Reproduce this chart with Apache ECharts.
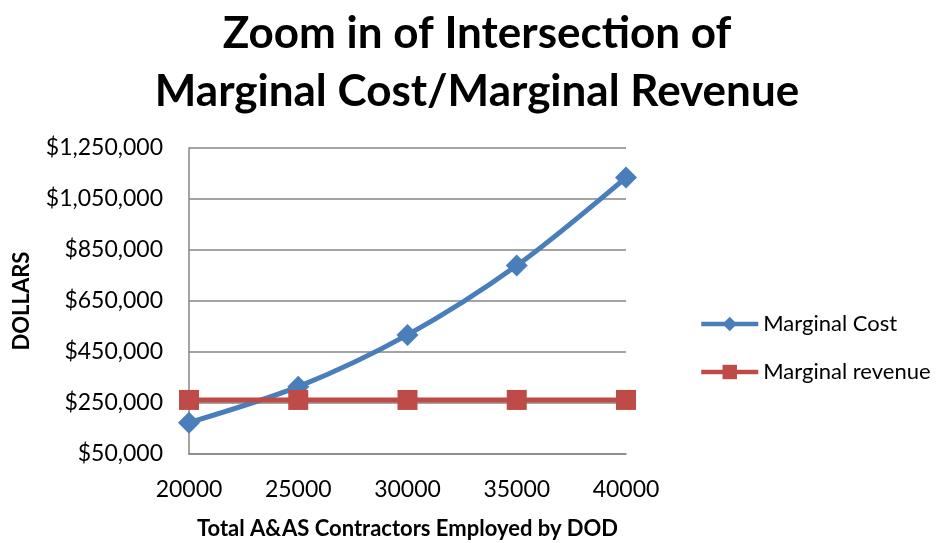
<!DOCTYPE html>
<html>
<head>
<meta charset="utf-8">
<title>Zoom in of Intersection of Marginal Cost/Marginal Revenue</title>
<script src="https://cdn.jsdelivr.net/npm/echarts@6/dist/echarts.min.js"></script>
<style>
  html, body { margin: 0; padding: 0; background: #fff; }
  #chart { width: 952px; height: 543px; }
</style>
</head>
<body>
<div id="chart"></div>
<script>
// contractors employed (x categories)
const contractors = ['20000', '25000', '30000', '35000', '40000']
// dollars per series
const marginalCost = [173000, 314000, 517000, 789000, 1134000]
const marginalRevenue = [262000, 262000, 262000, 262000, 262000]

const FONT = 'Lato, "Open Sans", sans-serif'

const myChart = echarts.init(document.getElementById('chart'))
myChart.setOption({
  animation: false,
  title: {
    text: 'Zoom in of Intersection of\nMarginal Cost/Marginal Revenue',
    left: 472,
    textAlign: 'center',
    top: 0,
    textStyle: { fontFamily: FONT, fontSize: 44, fontWeight: 'bold', color: '#000', lineHeight: 58 }
  },
  legend: {
    orient: 'vertical',
    left: 694,
    top: 308,
    itemWidth: 57,
    itemHeight: 18,
    itemGap: 26,
    textStyle: { fontFamily: FONT, fontSize: 22, color: '#000' },
    data: [
      { name: 'Marginal Cost', lineStyle: { width: 4.5 } },
      { name: 'Marginal revenue', lineStyle: { width: 4.5 } }
    ]
  },
  grid: { left: 189, right: 326, top: 148, bottom: 89, outerBoundsMode: 'none' },
  xAxis: {
    type: 'category',
    boundaryGap: false,
    data: contractors,
    name: 'Total A&AS Contractors Employed by DOD',
    nameLocation: 'middle',
    nameGap: 64,
    nameTextStyle: { fontFamily: FONT, fontSize: 22, fontWeight: 'bold', color: '#000' },
    axisLine: { lineStyle: { color: '#868686', width: 1.5 } },
    axisTick: { show: false },
    axisLabel: { fontFamily: FONT, fontSize: 23, color: '#000', margin: 24 }
  },
  yAxis: {
    type: 'value',
    min: 50000,
    max: 1250000,
    interval: 200000,
    name: 'DOLLARS',
    nameLocation: 'middle',
    nameGap: 156,
    nameTextStyle: { fontFamily: FONT, fontSize: 22, fontWeight: 'bold', color: '#000' },
    axisLine: { show: true, lineStyle: { color: '#868686', width: 1.5 } },
    axisTick: { show: false },
    splitLine: { lineStyle: { color: '#868686', width: 1.5 } },
    axisLabel: {
      fontFamily: FONT, fontSize: 23, color: '#000', margin: 26,
      formatter: v => '$' + v.toLocaleString('en-US')
    }
  },
  series: [
    {
      name: 'Marginal Cost',
      type: 'line',
      smooth: 0.3,
      data: marginalCost,
      symbol: 'diamond',
      symbolSize: 22,
      lineStyle: { color: '#4a7ebb', width: 5 },
      itemStyle: { color: '#4a7ebb' }
    },
    {
      name: 'Marginal revenue',
      type: 'line',
      data: marginalRevenue,
      symbol: 'rect',
      symbolSize: 20,
      lineStyle: { color: '#be4b48', width: 5 },
      itemStyle: { color: '#be4b48' }
    }
  ]
})
</script>
</body>
</html>
